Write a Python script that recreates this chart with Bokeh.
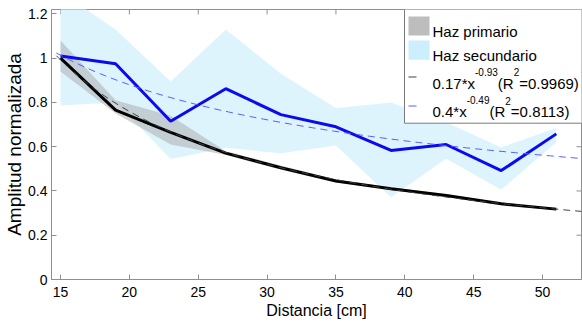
import numpy as np
from bokeh.plotting import figure
from bokeh.models import Range1d, FixedTicker, Label
from bokeh.embed import file_html
from bokeh.resources import INLINE

# ---------------- data ----------------
distance = [15, 19, 23, 27, 31, 35, 39, 43, 47, 51]
primary = [1.0, 0.765, 0.665, 0.571, 0.505, 0.445, 0.41, 0.38, 0.342, 0.318]
primary_upper = [1.08, 0.81, 0.74, 0.58, 0.515, 0.452, 0.416, 0.386, 0.348, 0.323]
primary_lower = [0.94, 0.75, 0.61, 0.562, 0.496, 0.438, 0.404, 0.374, 0.336, 0.313]
secondary = [1.01, 0.975, 0.715, 0.862, 0.745, 0.69, 0.583, 0.61, 0.492, 0.658]
secondary_upper = [1.30, 1.13, 0.895, 1.13, 0.93, 0.775, 0.80, 0.71, 0.597, 0.685]
secondary_lower = [0.786, 0.80, 0.545, 0.595, 0.57, 0.605, 0.372, 0.546, 0.406, 0.62]

fit_coef = [0.17, 0.4]
fit_exp = [-0.93, -0.49]
fit_r2 = ["0.9969", "0.8113"]
fit_span = [14.7, 52.83]

x_ticks = [15, 20, 25, 30, 35, 40, 45, 50]
y_ticks = [0, 0.2, 0.4, 0.6, 0.8, 1.0, 1.2]
y_tick_labels = ["0", "0.2", "0.4", "0.6", "0.8", "1", "1.2"]

legend_names = ["Haz primario", "Haz secundario"]

# ---------------- layout constants ----------------
W, H = 582, 324
FL, FR, FT, FB = 51, 581, 9, 279
X0, X1 = 14.346, 52.83
Y0, Y1 = 0.0, 1.22
TICK = 5

FONT = "Liberation Sans"
AXIS_GRAY = "#8f8f8f"
BLUE = "#0a0af0"
LIGHT_BLUE = "#def4fd"
GRAY_BAND = "#a0a0a0"


def sx(px):
    return X0 + (px - FL) / (FR - FL) * (X1 - X0)


def sy(py):
    return Y0 + (FB - py) / (FB - FT) * (Y1 - Y0)


p = figure(width=W, height=H, x_range=Range1d(X0, X1), y_range=Range1d(Y0, Y1),
           output_backend="svg", toolbar_location=None,
           min_border_left=FL, min_border_right=W - FR, min_border_top=FT,
           min_border_bottom=H - FB,
           x_axis_label="Distancia [cm]", y_axis_label="Amplitud normalizada")
p.outline_line_color = AXIS_GRAY
p.grid.visible = False
p.background_fill_color = "white"
p.border_fill_color = "white"

for ax in (p.xaxis[0], p.yaxis[0]):
    ax.axis_line_color = AXIS_GRAY
    ax.major_tick_line_color = AXIS_GRAY
    ax.minor_tick_line_color = None
    ax.major_tick_in = TICK
    ax.major_tick_out = 0
    ax.major_label_text_font = FONT
    ax.major_label_text_font_size = "14px"
    ax.major_label_text_color = "black"
    ax.axis_label_text_font = FONT
    ax.axis_label_text_font_style = "normal"
    ax.axis_label_text_color = "black"

p.xaxis[0].ticker = FixedTicker(ticks=x_ticks)
p.yaxis[0].ticker = FixedTicker(ticks=y_ticks)
p.yaxis[0].major_label_overrides = {t: l for t, l in zip(y_ticks, y_tick_labels)}
p.xaxis[0].major_label_standoff = 7
p.yaxis[0].major_label_standoff = 4
p.xaxis[0].axis_label_text_font_size = "16px"
p.xaxis[0].axis_label_standoff = 2
p.yaxis[0].axis_label_text_font_size = "19px"
p.yaxis[0].axis_label_standoff = 0

# inward ticks on the top and right edges of the frame
p.segment(x0=x_ticks, y0=[Y1] * len(x_ticks), x1=x_ticks, y1=[sy(FT + TICK)] * len(x_ticks),
          line_color=AXIS_GRAY, line_width=1)
p.segment(x0=[X1] * len(y_ticks), y0=y_ticks, x1=[sx(FR - TICK)] * len(y_ticks), y1=y_ticks,
          line_color=AXIS_GRAY, line_width=1)

# ---------------- bands ----------------
p.varea(x=distance, y1=secondary_lower, y2=secondary_upper, fill_color=LIGHT_BLUE)
p.varea(x=distance, y1=primary_lower, y2=primary_upper, fill_color=GRAY_BAND, fill_alpha=0.45)

# ---------------- data lines ----------------
p.line(distance, primary, line_color="black", line_width=3)
p.line(distance, secondary, line_color=BLUE, line_width=3)

# ---------------- power-law fits (from legend coefficients, x in metres) ----------------
fx = np.linspace(fit_span[0], fit_span[1], 120)
fit_colors = ["#404040", "#5a5aff"]
for a, b, c in zip(fit_coef, fit_exp, fit_colors):
    p.line(fx, a * (fx / 100.0) ** b, line_color=c, line_width=1, line_dash="7 5")

# ---------------- legend (drawn manually to allow superscripts) ----------------
p.quad(left=[sx(404)], right=[sx(590)], top=[sy(8.5)], bottom=[sy(122.7)],
       fill_color="white", line_color="#7a7a7a", line_width=1)
p.quad(left=[sx(408), sx(408)], right=[sx(429), sx(429)],
       top=[sy(16), sy(40)], bottom=[sy(35), sy(59.3)],
       fill_color=["#bdbdbd", "#cdeefc"], line_color=None)
p.segment(x0=[sx(408)], y0=[sy(76.5)], x1=[sx(416)], y1=[sy(76.5)],
          line_color=fit_colors[0], line_width=1)
p.segment(x0=[sx(408)], y0=[sy(105.5)], x1=[sx(416)], y1=[sy(105.5)],
          line_color=fit_colors[1], line_width=1)


def put(txt, px, py, size):
    p.add_layout(Label(x=sx(px), y=sy(py - 0.28 * size), text=txt, text_font=FONT,
                       text_font_size="%gpx" % size, text_color="black",
                       text_baseline="alphabetic", text_align="left"))


for name, base_py in zip(legend_names, [35, 59.3]):
    put(name, 432, base_py, 15)

# advance widths (em) of the Arial-metric font, for placing the pieces in a row
ADV = {c: 0.556 for c in "0123456789"}
ADV.update({".": 0.278, "*": 0.389, "x": 0.5, "-": 0.333, "(": 0.333, ")": 0.333,
            "R": 0.722, "=": 0.584})


def width(s, size):
    return sum(ADV.get(ch, 0.556) for ch in s) * size


MAIN, SUP = 15, 10
for base_py, a, b, r2 in zip([86.7, 115.0], fit_coef, fit_exp, fit_r2):
    pieces = [(("%g" % a) + "*x", MAIN, 0), ("%g" % b, SUP, 12.5), ("(R", MAIN, 0),
              ("2", SUP, 12), ("=" + r2 + ")", MAIN, 0)]
    cur = 432.0
    for txt, size, up in pieces:
        put(txt, cur, base_py - up, size)
        cur += width(txt, size)

open("out.html", "w").write(file_html(p, INLINE))
